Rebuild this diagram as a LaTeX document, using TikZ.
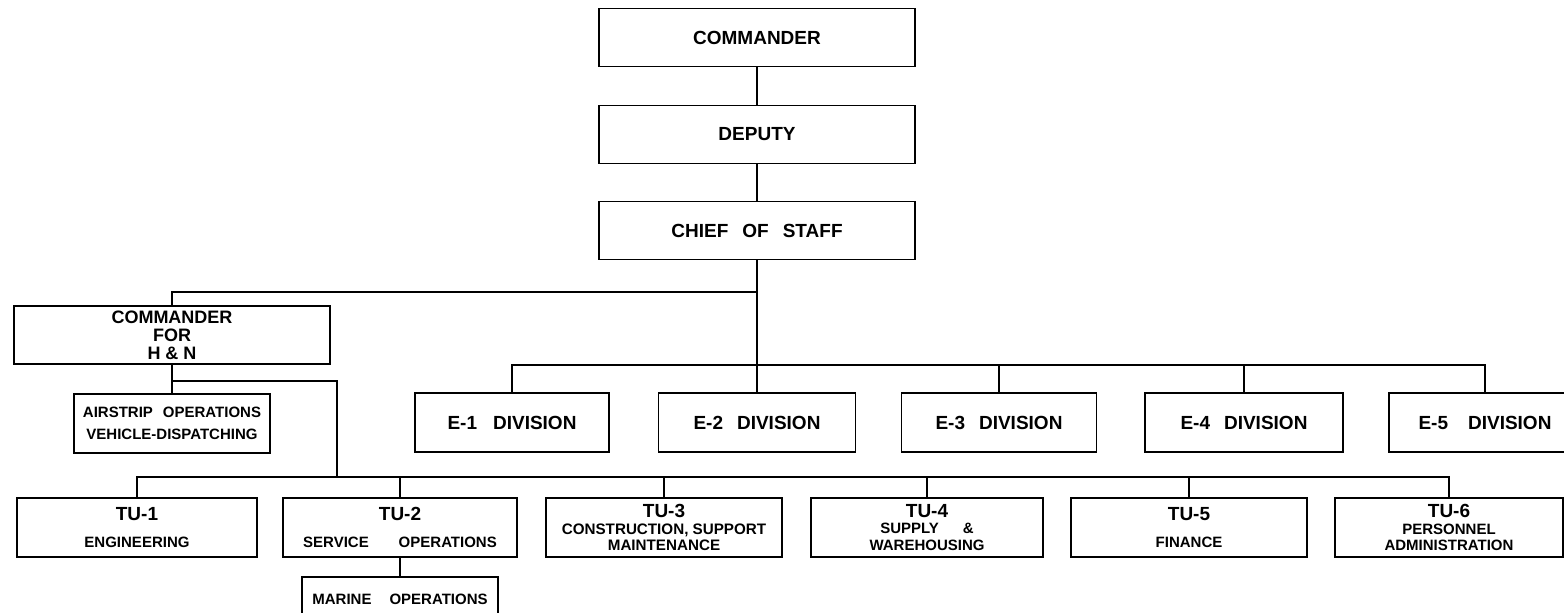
\documentclass[tikz,border=0pt]{standalone}
\usepackage{fontspec}
\setmainfont{Liberation Sans}
\begin{document}
\begin{tikzpicture}[x=0.5pt,y=-0.5pt,
  bx/.style={draw, line width=0.75pt, inner sep=0pt, align=center},
  big/.style={font=\bfseries\fontsize{9.5}{11}\selectfont},
  sml/.style={font=\bfseries\fontsize{7.5}{11}\selectfont},
  tuone/.style={bx, font=\bfseries\fontsize{9.5}{13.5}\selectfont, minimum height=29.5pt},
  tutwo/.style={bx, font=\bfseries\fontsize{9.5}{8.4}\selectfont, minimum height=29.5pt},
  ebox/.style={bx, big, minimum height=29.5pt},
  topbox/.style={bx, big, minimum width=158pt, minimum height=29pt},
  ln/.style={line width=0.9pt}]
\useasboundingbox (0,0) rectangle (1564,613);

% top chain
\node[topbox] (cmd) at (757,37.5) {COMMANDER};
\node[topbox] (dep) at (757,134.5) {DEPUTY};
\node[topbox] (cos) at (757,230.5) {CHIEF\hspace{7pt}OF\hspace{7pt}STAFF};

% commander for H & N
\node[bx, font=\bfseries\fontsize{9}{9}\selectfont, minimum width=158pt, minimum height=29pt] (hn) at (172,335) {COMMANDER\\FOR\\H \& N};
\node[bx, sml, minimum width=98pt, minimum height=29.5pt] (air) at (172,423.5) {AIRSTRIP\hspace{5pt}OPERATIONS\\VEHICLE-DISPATCHING};

% divisions
\node[ebox, minimum width=97pt] (e1) at (512,422.5) {E-1\hspace{8pt}DIVISION};
\node[ebox, minimum width=98.5pt] (e2) at (757,422.5) {E-2\hspace{7pt}DIVISION};
\node[ebox, minimum width=97.5pt] (e3) at (999,422.5) {E-3\hspace{7pt}DIVISION};
\node[ebox, minimum width=99pt] (e4) at (1244,422.5) {E-4\hspace{7pt}DIVISION};
\node[ebox, minimum width=96pt] (e5) at (1485,422.5) {E-5\hspace{10pt}DIVISION};

% task units
\node[tuone, minimum width=120pt] (tu1) at (137,527.5) {TU-1\\{\fontsize{7.5}{9}\selectfont ENGINEERING}};
\node[tuone, minimum width=117pt] (tu2) at (400,527.5) {TU-2\\{\fontsize{7.5}{9}\selectfont SERVICE\hspace{15pt}OPERATIONS}};
\node[tutwo, minimum width=118pt] (tu3) at (664,527.5) {TU-3\\{\fontsize{7.6}{9}\selectfont CONSTRUCTION, SUPPORT}\\{\fontsize{7.6}{9}\selectfont MAINTENANCE}};
\node[tutwo, minimum width=116pt] (tu4) at (927,527.5) {TU-4\\{\fontsize{7.5}{9}\selectfont SUPPLY\hspace{12pt}\&}\\{\fontsize{7.5}{9}\selectfont WAREHOUSING}};
\node[tuone, minimum width=118pt] (tu5) at (1189,527.5) {TU-5\\{\fontsize{7.5}{9}\selectfont FINANCE}};
\node[tutwo, minimum width=114pt] (tu6) at (1449,527.5) {TU-6\\{\fontsize{7.5}{9}\selectfont PERSONNEL}\\{\fontsize{7.5}{9}\selectfont ADMINISTRATION}};
\node[bx, sml, minimum width=98pt, minimum height=22pt] (mar) at (400,599) {MARINE\hspace{9pt}OPERATIONS};

% connectors
\coordinate (hbar) at (0,292);
\coordinate (abar) at (0,381);
\coordinate (dbar) at (0,365);
\coordinate (tbar) at (0,477);
\coordinate (jt) at (337,477);

\draw[ln] (cmd.south) -- (dep.north);
\draw[ln] (dep.south) -- (cos.north);
\draw[ln] (cos.south) -- (e2.north);
\draw[ln] (hn.north) -- (hn.north |- hbar) -- (cos.south |- hbar);
\draw[ln] (hn.south) -- (air.north);
\draw[ln] (hn.south |- abar) -| (jt);
\draw[ln] (e1.north) -- (e1.north |- dbar) -- (e5.north |- dbar) -- (e5.north);
\foreach \n in {e3,e4} \draw[ln] (\n.north) -- (\n.north |- dbar);
\draw[ln] (tu1.north) -- (tu1.north |- tbar) -- (tu6.north |- tbar) -- (tu6.north);
\foreach \n in {tu2,tu3,tu4,tu5} \draw[ln] (\n.north) -- (\n.north |- tbar);
\draw[ln] (tu2.south) -- (mar.north);
\end{tikzpicture}
\end{document}
